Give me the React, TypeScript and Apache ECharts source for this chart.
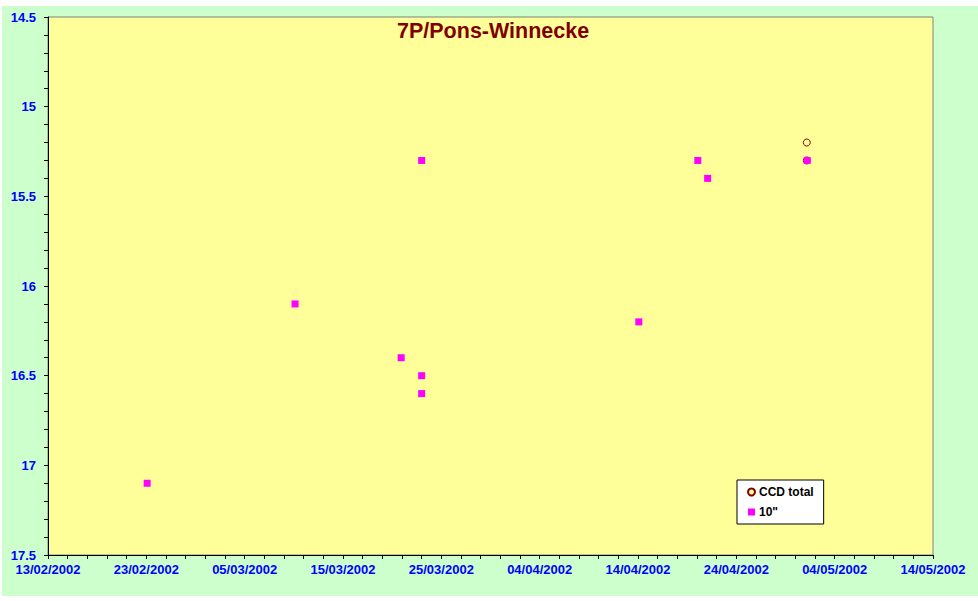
import React, { useEffect, useRef } from "react";
import * as echarts from "echarts";

const TITLE = "7P/Pons-Winnecke";
const BASE_DATE = "2002-02-13T00:00";
const X_TICK_DAYS = 10;
const X_SPAN_DAYS = 90;
const Y_MIN = 14.5;
const Y_MAX = 17.5;
const Y_INTERVAL = 0.5;

const ccdDates = ["2002-05-01T04:00", "2002-05-01T04:00"];
const ccdMags = [15.2, 15.3];

const tenDates = [
  "2002-02-23T02:00",
  "2002-03-10T03:00",
  "2002-03-20T22:00",
  "2002-03-23T00:00",
  "2002-03-23T00:00",
  "2002-03-23T00:00",
  "2002-04-14T02:00",
  "2002-04-20T02:00",
  "2002-04-21T02:00",
  "2002-05-01T05:00",
];
const tenMags = [17.1, 16.1, 16.4, 15.3, 16.5, 16.6, 16.2, 15.3, 15.4, 15.3];

const DAY = 86400000;
const toMs = (s: string) => Date.parse(s + ":00Z");
const baseMs = toMs(BASE_DATE);
const toDays = (s: string) => (toMs(s) - baseMs) / DAY;
const pad = (n: number) => (n < 10 ? "0" + n : "" + n);
const fmtDay = (d: number) => {
  const dt = new Date(baseMs + Math.round(d) * DAY);
  return pad(dt.getUTCDate()) + "/" + pad(dt.getUTCMonth() + 1) + "/" + dt.getUTCFullYear();
};

export default function App() {
  const ref = useRef<HTMLDivElement>(null);
  useEffect(() => {
    document.body.style.margin = "0";
    const chart = echarts.init(ref.current!, undefined, { renderer: "svg" });
    const font = "Arial, 'Liberation Sans', sans-serif";
    chart.setOption({
      animation: false,
      backgroundColor: "#FFFFFF",
      graphic: [
        {
          type: "rect",
          z: -10,
          silent: true,
          shape: { x: 2, y: 6, width: 976, height: 590 },
          style: { fill: "#CCFFCC" },
        },
      ],
      title: {
        text: TITLE,
        left: 397,
        top: 20,
        padding: 0,
        textStyle: { color: "#800000", fontSize: 21.5, fontWeight: "bold", fontFamily: font },
      },
      grid: {
        left: 48,
        top: 17,
        right: 45,
        bottom: 46,
        show: true,
        backgroundColor: "#FFFF99",
        borderColor: "#808080",
        borderWidth: 1,
      },
      legend: {
        left: 737,
        top: 480,
        orient: "vertical",
        backgroundColor: "#FFFFFF",
        borderColor: "#000000",
        borderWidth: 1,
        padding: [6, 10, 6, 10],
        itemGap: 8,
        itemWidth: 7,
        itemHeight: 7,
        textStyle: { color: "#000000", fontSize: 12, fontWeight: "bold", fontFamily: font, padding: [0, 0, 0, -1] },
        data: [
          { name: "CCD total", icon: "circle" },
          { name: '10"', icon: "rect" },
        ],
      },
      xAxis: {
        type: "value",
        min: 0,
        max: X_SPAN_DAYS,
        interval: X_TICK_DAYS,
        splitLine: { show: false },
        axisLine: { show: true, onZero: false, lineStyle: { color: "#000000", width: 1 } },
        axisTick: { show: true, length: 4, lineStyle: { color: "#000000" } },
        minorTick: { show: true, splitNumber: 5, length: 4, lineStyle: { color: "#000000" } },
        axisLabel: {
          margin: 8,
          color: "#0000FF",
          fontSize: 13,
          fontWeight: "bold",
          fontFamily: font,
          formatter: (v: number) => fmtDay(v),
        },
      },
      yAxis: {
        type: "value",
        inverse: true,
        min: Y_MIN,
        max: Y_MAX,
        interval: Y_INTERVAL,
        splitLine: { show: false },
        axisLine: { show: true, onZero: false, lineStyle: { color: "#000000", width: 1 } },
        axisTick: { show: true, length: 4, lineStyle: { color: "#000000" } },
        minorTick: { show: true, splitNumber: 5, length: 4, lineStyle: { color: "#000000" } },
        axisLabel: {
          margin: 12,
          color: "#0000FF",
          fontSize: 13,
          fontWeight: "bold",
          fontFamily: font,
        },
      },
      series: [
        {
          name: "CCD total",
          type: "scatter",
          symbol: "circle",
          symbolSize: 7,
          itemStyle: { color: "#FFFF99", borderColor: "#800000", borderWidth: 1, opacity: 1 },
          data: ccdDates.map((d, i) => [toDays(d), ccdMags[i]]),
        },
        {
          name: '10"',
          type: "scatter",
          symbol: "rect",
          symbolSize: 7,
          itemStyle: { color: "#FF00FF", opacity: 1 },
          data: tenDates.map((d, i) => [toDays(d), tenMags[i]]),
        },
      ],
    });
    return () => chart.dispose();
  }, []);
  return <div ref={ref} style={{ width: 978, height: 601 }} />;
}
